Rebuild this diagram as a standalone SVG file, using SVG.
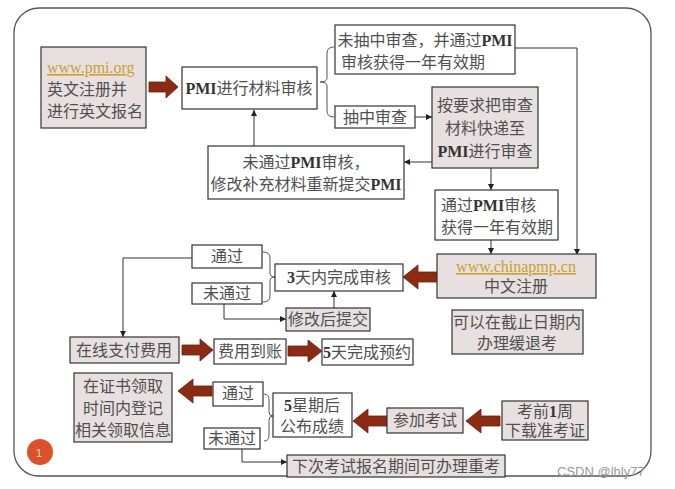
<svg xmlns="http://www.w3.org/2000/svg" width="675" height="489" viewBox="0 0 675 489">
<defs>
<marker id="ah" viewBox="0 0 10 10" refX="10" refY="5" markerWidth="6" markerHeight="6" orient="auto" markerUnits="userSpaceOnUse"><path d="M0,0 L10,5 L0,10 z" fill="#222"/></marker>
<style>
.bx{fill:#fff;stroke:#333;stroke-width:1.2}
.pk{fill:#e8e0e0;stroke:#333;stroke-width:1.2}
.t{font-family:"Liberation Serif","Noto Sans CJK SC",serif;font-size:16px;fill:#505050;text-anchor:middle}
.l{text-anchor:start}
.u{fill:#c9a030;text-decoration:underline}
.b{font-weight:bold;fill:#333}
.ln{fill:none;stroke:#333;stroke-width:1}
.ar{marker-end:url(#ah)}
.fat{fill:#8c2b13;stroke:#6a1f0d;stroke-width:0.8}
.br{fill:none;stroke:#555;stroke-width:1}
</style>
</defs>
<rect x="14" y="8" width="637" height="468" rx="25" fill="#fff" stroke="#555" stroke-width="1.3"/>

<g id="connectors">
<line class="ln ar" x1="254" y1="146" x2="254" y2="110"/>
<line class="ln ar" x1="415" y1="117" x2="432" y2="117"/>
<line class="ln ar" x1="432" y1="162" x2="404" y2="162"/>
<polyline class="ln ar" points="515,48 577,48 577,255"/>
<line class="ln ar" x1="491" y1="168" x2="491" y2="190"/>
<line class="ln ar" x1="491" y1="240" x2="491" y2="254"/>
<polyline class="ln ar" points="224,304 224,319 286,319"/>
<line class="ln ar" x1="334" y1="308" x2="334" y2="291"/>
<polyline class="ln ar" points="192,258 123,258 123,337"/>
<polyline class="ln ar" points="242,449 242,462 287,462"/>
<path class="br" d="M334,47 Q327,47 327,53 L327,78 Q327,82 320,82 Q327,82 327,86 L327,111 Q327,117 334,117"/>
<path class="br" d="M263,252 Q270,252 270,258 L270,273 Q270,277 275,277 Q270,277 270,281 L270,296 Q270,302 263,302"/>
<path class="br" d="M264,394 Q269,394 269,400 L269,412 Q269,416 273,416 Q269,416 269,420 L269,435 Q269,441 264,441"/>
<polygon class="fat" points="149,82 166,82 166,76 178,87 166,98 166,92 149,92"/>
<polygon class="fat" points="437,272 418,272 418,265 403,277 418,289 418,282 437,282"/>
<polygon class="fat" points="182,345 200,345 200,339 213,350 200,361 200,355 182,355"/>
<polygon class="fat" points="288,346 308,346 308,340 322,351 308,362 308,356 288,356"/>
<polygon class="fat" points="212,386 193,386 193,379 178,391 193,403 193,396 212,396"/>
<polygon class="fat" points="387,416 368,416 368,409 353,421 368,433 368,426 387,426"/>
<polygon class="fat" points="500,416 481,416 481,409 466,421 481,433 481,426 500,426"/>
</g>

<g id="n-pmiorg"><rect class="pk" x="41" y="47" width="105" height="81"/>
<text class="t l u" x="47" y="73" font-size="15">www.pmi.org</text>
<text class="t l" x="47" y="95">英文注册并</text>
<text class="t l" x="47" y="117">进行英文报名</text></g>

<g id="n-review"><rect class="bx" x="182" y="67" width="135" height="42"/>
<text class="t" x="249" y="94"><tspan class="b">PMI</tspan>进行材料审核</text></g>

<g id="n-notdrawn"><rect class="bx" x="335" y="25" width="180" height="49"/>
<text class="t" x="425" y="46"><tspan>未抽中审查，并通过</tspan><tspan class="b">PMI</tspan></text>
<text class="t l" x="341" y="68">审核获得一年有效期</text></g>

<g id="n-drawn"><rect class="bx" x="335" y="106" width="80" height="22"/>
<text class="t" x="375" y="123">抽中审查</text></g>

<g id="n-send"><rect class="pk" x="432" y="87" width="106" height="81"/>
<text class="t" x="485" y="111">按要求把审查</text>
<text class="t" x="485" y="134">材料快递至</text>
<text class="t" x="485" y="157"><tspan class="b">PMI</tspan>进行审查</text></g>

<g id="n-fail"><rect class="bx" x="208" y="146" width="196" height="53"/>
<text class="t" x="306" y="168">未通过<tspan class="b">PMI</tspan>审核，</text>
<text class="t" x="306" y="190">修改补充材料重新提交<tspan class="b">PMI</tspan></text></g>

<g id="n-pass"><rect class="bx" x="435" y="190" width="123" height="50"/>
<text class="t l" x="441" y="211">通过<tspan class="b">PMI</tspan>审核</text>
<text class="t l" x="441" y="233">获得一年有效期</text></g>

<g id="n-chinapmp"><rect class="pk" x="437" y="254" width="159" height="44"/>
<text class="t u" x="516" y="272" font-size="15">www.chinapmp.cn</text>
<text class="t" x="516" y="292">中文注册</text></g>

<g id="n-defer"><rect class="pk" x="452" y="310" width="131" height="44"/>
<text class="t" x="517" y="328">可以在截止日期内</text>
<text class="t" x="517" y="349">办理缓退考</text></g>

<g id="n-3days"><rect class="bx" x="275" y="264" width="128" height="27"/>
<text class="t" x="339" y="283"><tspan class="b">3</tspan>天内完成审核</text></g>

<g id="n-pass2"><rect class="bx" x="192" y="245" width="70" height="23"/>
<text class="t" x="227" y="262">通过</text></g>

<g id="n-fail2"><rect class="bx" x="192" y="283" width="70" height="21"/>
<text class="t" x="227" y="299">未通过</text></g>

<g id="n-resubmit"><rect class="pk" x="286" y="308" width="84" height="23"/>
<text class="t" x="328" y="325">修改后提交</text></g>

<g id="n-pay"><rect class="pk" x="70" y="337" width="109" height="26"/>
<text class="t" x="124" y="356">在线支付费用</text></g>

<g id="n-received"><rect class="bx" x="214" y="339" width="72" height="25"/>
<text class="t" x="250" y="357">费用到账</text></g>

<g id="n-5days"><rect class="bx" x="322" y="339" width="91" height="26"/>
<text class="t" x="367" y="358"><tspan class="b">5</tspan>天完成预约</text></g>

<g id="n-cert"><rect class="pk" x="74" y="373" width="98" height="69"/>
<text class="t" x="123" y="392">在证书领取</text>
<text class="t" x="123" y="414">时间内登记</text>
<text class="t" x="123" y="436">相关领取信息</text></g>

<g id="n-pass3"><rect class="bx" x="213" y="382" width="50" height="24"/>
<text class="t" x="238" y="399">通过</text></g>

<g id="n-fail3"><rect class="bx" x="204" y="428" width="56" height="21"/>
<text class="t" x="232" y="444">未通过</text></g>

<g id="n-result"><rect class="bx" x="273" y="393" width="79" height="44"/>
<text class="t" x="312" y="411"><tspan class="b">5</tspan>星期后</text>
<text class="t" x="312" y="432">公布成绩</text></g>

<g id="n-exam"><rect class="pk" x="387" y="408" width="76" height="25"/>
<text class="t" x="425" y="426">参加考试</text></g>

<g id="n-ticket"><rect class="pk" x="502" y="401" width="86" height="39"/>
<text class="t" x="545" y="417">考前<tspan class="b">1</tspan>周</text>
<text class="t" x="545" y="436">下载准考证</text></g>

<g id="n-retake"><rect class="pk" x="287" y="455" width="218" height="22"/>
<text class="t" x="396" y="472">下次考试报名期间可办理重考</text></g>

<g id="badge"><circle cx="40" cy="452" r="13" fill="#d9522a"/>
<text x="36" y="457" font-family="Liberation Sans,sans-serif" font-size="11" fill="#f6d9c8">1</text></g>

<text x="557" y="476" font-family="Liberation Sans,sans-serif" font-size="13" fill="#999">CSDN @lhly77</text>
</svg>
